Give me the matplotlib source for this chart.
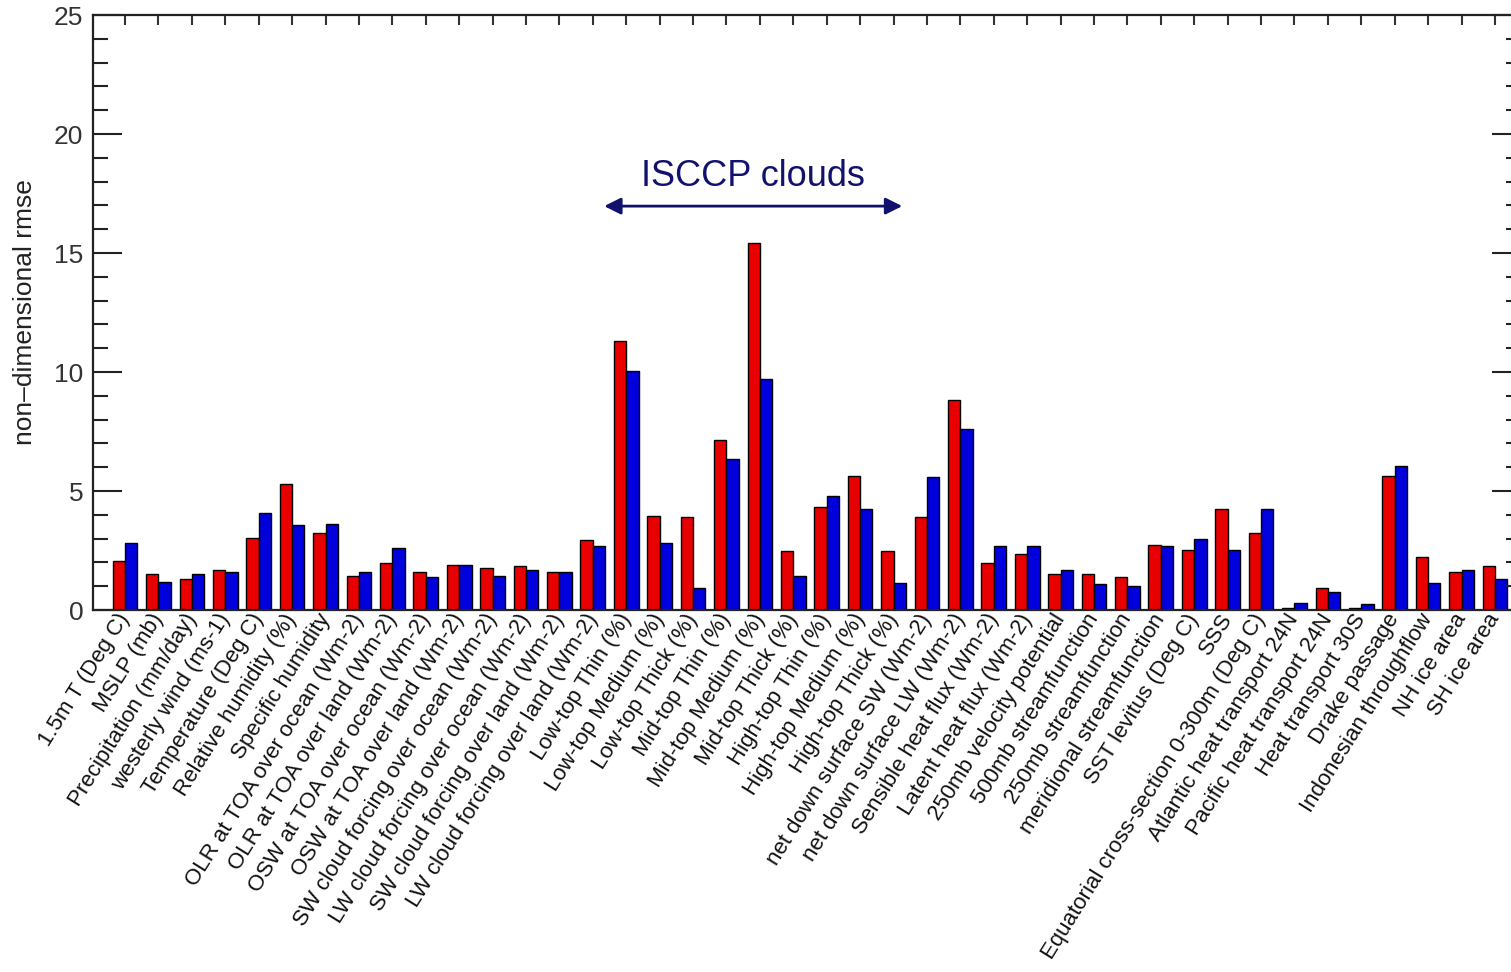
import matplotlib
matplotlib.use("Agg")
import matplotlib.pyplot as plt
import numpy as np
from matplotlib.ticker import MultipleLocator

plt.rcParams['font.family'] = ['Liberation Sans', 'DejaVu Sans']

# diagnostic names along the x axis
fields = [
    "1.5m T (Deg C)", "MSLP (mb)", "Precipitation (mm/day)", "westerly wind (ms-1)",
    "Temperature (Deg C)", "Relative humidity (%)", "Specific humidity",
    "OLR at TOA over ocean (Wm-2)", "OLR at TOA over land (Wm-2)",
    "OSW at TOA over ocean (Wm-2)", "OSW at TOA over land (Wm-2)",
    "SW cloud forcing over ocean (Wm-2)", "LW cloud forcing over ocean (Wm-2)",
    "SW cloud forcing over land (Wm-2)", "LW cloud forcing over land (Wm-2)",
    "Low-top Thin (%)", "Low-top Medium (%)", "Low-top Thick (%)",
    "Mid-top Thin (%)", "Mid-top Medium (%)", "Mid-top Thick (%)",
    "High-top Thin (%)", "High-top Medium (%)", "High-top Thick (%)",
    "net down surface SW (Wm-2)", "net down surface LW (Wm-2)",
    "Sensible heat flux (Wm-2)", "Latent heat flux (Wm-2)",
    "250mb velocity potential", "500mb streamfunction", "250mb streamfunction",
    "meridional streamfunction", "SST levitus (Deg C)", "SSS",
    "Equatorial cross-section 0-300m (Deg C)", "Atlantic heat transport 24N",
    "Pacific heat transport 24N", "Heat transport 30S", "Drake passage",
    "Indonesian throughflow", "NH ice area", "SH ice area",
]

# non-dimensional rmse, first run (red) and second run (blue)
rmse_red = [
    2.06, 1.51, 1.30, 1.68, 3.04, 5.29, 3.22, 1.43, 1.96, 1.61, 1.89,
    1.76, 1.83, 1.61, 2.96, 11.30, 3.93, 3.89, 7.16, 15.44, 2.50,
    4.32, 5.61, 2.46, 3.90, 8.84, 1.97, 2.36, 1.52, 1.52, 1.38,
    2.74, 2.53, 4.24, 3.23, 0.08, 0.91, 0.10, 5.64, 2.22, 1.61, 1.85,
]
rmse_blue = [
    2.83, 1.19, 1.51, 1.61, 4.09, 3.57, 3.60, 1.61, 2.59, 1.40, 1.89,
    1.43, 1.68, 1.61, 2.67, 10.03, 2.83, 0.91, 6.35, 9.71, 1.43,
    4.77, 4.24, 1.15, 5.57, 7.61, 2.69, 2.69, 1.68, 1.09, 1.01,
    2.69, 3.00, 2.53, 4.24, 0.31, 0.77, 0.25, 6.03, 1.12, 1.68, 1.29,
]

# span of the ISCCP cloud diagnostics (in category units)
isccp_start, isccp_end = 14.34, 23.26

x = np.arange(len(fields))
w = 0.37

fig = plt.figure(figsize=(15.11, 9.72), dpi=100)
ax = fig.add_axes([93 / 1511, 1 - 610 / 972, (1521 - 93) / 1511, 595 / 972])

ax.bar(x - w, rmse_red, width=w, align='edge', color='#e80000',
       edgecolor='black', linewidth=1.0)
ax.bar(x, rmse_blue, width=w, align='edge', color='#0000dc',
       edgecolor='black', linewidth=1.0)

ax.set_xlim(-0.96, 41.78)
ax.set_ylim(0, 25)

for sp in ax.spines.values():
    sp.set_linewidth(1.6)
    sp.set_color('#222222')

ax.yaxis.set_major_locator(MultipleLocator(5))
ax.yaxis.set_minor_locator(MultipleLocator(1))
ax.tick_params(axis='y', which='major', direction='in', length=21, width=1.5,
               left=True, right=True, labelsize=19, pad=7, colors='#222222')
ax.tick_params(axis='y', which='minor', direction='in', length=11, width=1.5,
               left=True, right=True, colors='#222222')
ax.tick_params(axis='y', labelcolor='#333333')

ax.set_xticks(x)
ax.set_xticklabels(fields, rotation=58, ha='right', va='center',
                   rotation_mode='anchor', fontsize=16, color='#111111')
ax.tick_params(axis='x', which='major', length=0, pad=4, top=True)

top = ax.secondary_xaxis('top')
top.set_xticks(x)
top.set_xticklabels([])
top.tick_params(direction='in', length=7, width=1.5, colors='#333333')
top.spines['top'].set_visible(False)

ax.set_ylabel("non\u2013dimensional rmse", fontsize=19, color='#222222', labelpad=12)

# ISCCP cloud group marker
ax.annotate('', xy=(isccp_start, 16.97), xytext=(isccp_end, 16.97),
            arrowprops=dict(arrowstyle='<|-|>', color='#12126e', lw=2,
                            mutation_scale=25, shrinkA=0, shrinkB=0))
ax.text((isccp_start + isccp_end) / 2, 18.2, "ISCCP clouds", fontsize=26,
        color='#12126e', ha='center', va='center')

fig.savefig("out.png", dpi=100)
